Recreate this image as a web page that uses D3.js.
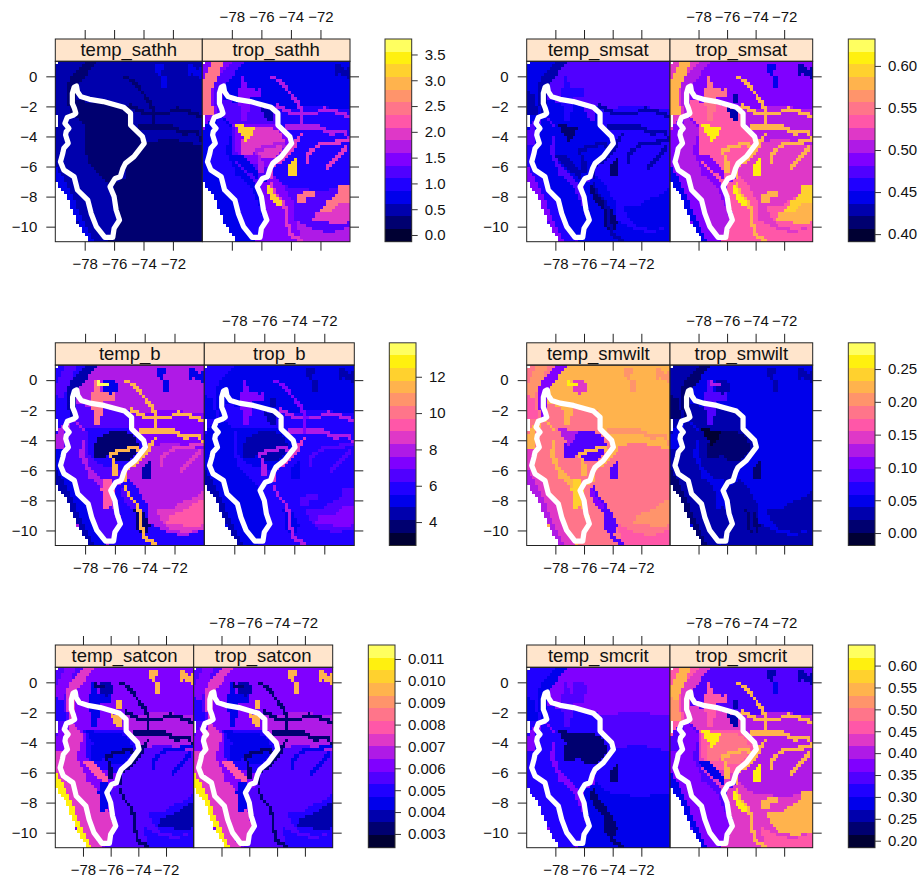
<!DOCTYPE html>
<html>
<head>
<meta charset="utf-8">
<script src="https://cdnjs.cloudflare.com/ajax/libs/d3/7.8.5/d3.min.js"></script>
<style>
body { margin: 0; background: #fff; }
text { font-family: "Liberation Sans", Arial, sans-serif; fill: #111; }
</style>
</head>
<body>
<div id="chart"></div>
<script>
var _ = null;

// 16 level palette of the colour key, dark to light
var palette = ["#000033","#000070","#0000AD","#0000EB","#2000FF","#5000FF","#8000FF","#AF1AE6",
               "#DF38C7","#FF57A8","#FF758A","#FF946B","#FFB34D","#FFD12E","#FFF00F","#FFFF60"];

var lonTicks = [-78, -76, -74, -72];
var latTicks = [0, -2, -4, -6, -8, -10];

// white basin outline, lon/lat
var basinOutline = [[-78.56,-0.64],[-78.72,-0.73],[-78.84,-1.13],[-78.84,-1.8],[-78.7,-2.13],[-78.6,-2.46],
  [-78.79,-2.59],[-79.19,-2.73],[-79.35,-3.13],[-79.07,-3.46],[-79.26,-3.68],[-79.3,-3.9],[-79.12,-4.46],
  [-79.42,-4.79],[-79.49,-5.12],[-79.65,-5.68],[-79.42,-6.23],[-78.72,-6.68],[-78.49,-7.56],[-77.79,-8.23],
  [-77.56,-9.12],[-77.21,-10],[-76.63,-10.71],[-76.09,-10.71],[-76,-10.11],[-75.63,-9.56],[-75.86,-8.89],
  [-76,-8],[-76.28,-7.34],[-75.93,-6.79],[-75.58,-6.68],[-75.4,-6.12],[-75.23,-5.79],[-74.65,-5.34],
  [-73.95,-4.46],[-74.07,-4.01],[-74.88,-3.24],[-74.88,-2.46],[-75.35,-2.06],[-76.74,-1.68],[-77.67,-1.53],
  [-78.26,-1.35],[-78.49,-1.02]];

// no data: the ocean corner and a few cells on the west edge
var oceanMask = [
  [[-80,-6.9],[-79.2,-8],[-78.5,-9.7],[-77.7,-11],[-80.1,-11.1]],
  [[-80.1,-2.6],[-79.8,-2.6],[-79.8,-3.3],[-80.1,-3.3]],
  [[-80.1,1.1],[-79.75,1.1],[-79.75,0.8],[-80.1,0.8]]
];

// landscape zones, painted in this order
var zoneShapes = [
  [[-80.1,1.1],[-69.9,1.1],[-69.9,-11.1],[-80.1,-11.1]],                                  // 0 base
  [[-75,-2.2],[-72,-2],[-70,-2.3],[-70,-4.6],[-74,-4.6],[-74.5,-3.8]],                    // 1 midEast
  [[-74,-4.4],[-72,-4.2],[-70,-4.6],[-70,-7.3],[-72,-7.6],[-75,-7.2],[-75.3,-6]],         // 2 east
  [[-75.8,-7],[-75,-7.2],[-72,-7.6],[-70,-7.3],[-70,-11],[-76.5,-11],[-75.5,-9.5],[-75.9,-8]], // 3 south
  [[-74.5,-9.6],[-73.4,-9.7],[-72.5,-10.2],[-71.2,-10.4],[-70,-9.9],[-70,-11],[-75.8,-11],[-75.4,-9.6]], // 4 sBottom
  [[-73.3,-8.6],[-72.4,-8.7],[-71.6,-8.2],[-70.8,-7.9],[-70,-7.4],[-70,-9.9],[-71.2,-10.2],[-72.3,-9.9],[-72.9,-9.4]], // 5 seBlob
  [[-72.3,-9],[-71.4,-8.7],[-70.6,-8.2],[-70,-8],[-70,-9.6],[-70.6,-9.9],[-71.5,-9.7],[-72.5,-9.5]], // 6 seCore
  [[-73.5,-7.9],[-72.9,-7.6],[-72.3,-7.5],[-72.5,-8],[-72.9,-8],[-73,-8.5],[-73.5,-8.3]], // 7 sePatchNW
  [[-72,-9],[-71.5,-8.3],[-70.9,-7.8],[-70.7,-7.3],[-70,-7.2],[-70,-8.4],[-70.8,-8.4],[-71.2,-9]], // 8 sePatchE
  [[-75.9,-7],[-75,-6.6],[-74.3,-7.5],[-73.8,-8.5],[-73.7,-9.5],[-73.3,-11],[-76.5,-11],[-75.6,-9.5],[-75.9,-8]], // 9 foothill
  [[-80,1],[-77.8,1],[-77.8,0.2],[-78.4,-0.6],[-79,-1.5],[-79,-2.6],[-79.6,-3],[-80,-3.8]], // 10 nwBand
  [[-79.3,1],[-78.5,1],[-78.9,0],[-79.3,-0.8],[-79.6,-1.3],[-80,-1.2],[-79.9,-0.3]],      // 11 nwCore
  [[-80,-1],[-79.4,-1.3],[-79.2,-2.5],[-80,-2.7]],                                        // 12 nwWest
  [[-80,-4.5],[-79.4,-4.5],[-79.6,-5.7],[-79.4,-6.3],[-78.7,-6.8],[-78.4,-7.6],[-77.7,-8.3],[-77.5,-9.2],[-77.2,-10],[-76.6,-11],[-77.7,-11],[-80,-7]], // 13 coastInner
  [[-80,-5.7],[-79.7,-6.3],[-78.9,-7.8],[-78.2,-9.5],[-77.4,-11],[-77.7,-11],[-80,-7]],   // 14 coastOuter
  [[-78.8,-2.6],[-78,-3.6],[-78.4,-5],[-77.7,-6.5],[-76.8,-7.3],[-76.1,-8.5],[-75.8,-9.6],[-76,-10.7],[-76.7,-10.7],[-77.2,-10],[-77.6,-9.1],[-77.8,-8.2],[-78.5,-7.5],[-78.7,-6.7],[-79.4,-6.2],[-79.6,-5.7],[-79.3,-4.5],[-79.3,-3.5]], // 15 basinWest
  [[-78.7,-1.6],[-75,-2.1],[-74.9,-3.2],[-74,-4],[-74,-4.5],[-75.2,-5.8],[-75.6,-6.6],[-76.2,-7.2],[-77,-6.5],[-77.8,-5.8],[-78,-4.8],[-78,-3.4],[-78.7,-2.5]], // 16 basinCenter
  [[-78,1],[-77.2,1],[-77.8,0.2],[-78.3,-0.5],[-78.6,-1.5],[-78.5,-2.5],[-79,-2.5],[-79.3,-1],[-78.9,0]], // 17 nwArc
  [[-77.6,-1.2],[-77.3,0],[-76.9,-0.7],[-75.9,-0.8],[-75.9,-1.3],[-76.7,-1.5],[-77,-3],[-77.4,-3],[-77.5,-2]], // 18 nPatch
  [[-76.8,-0.1],[-76,-0.1],[-75.7,-0.6],[-76.3,-1],[-76.9,-0.6]],                         // 19 nOval
  [[-77.2,0],[-76.4,-0.3],[-77.1,-0.4]],                                                  // 20 nYellow
  [[-77.9,-3.3],[-77,-3.2],[-75.5,-3.1],[-74.6,-3.4],[-74.2,-4],[-73.9,-4.8],[-74.4,-5.5],[-74.8,-5.8],[-75.7,-6],[-76.5,-5.8],[-77.3,-5.4],[-77.8,-5]], // 21 depHalo
  [[-77.33,-4.29],[-77.11,-3.85],[-76.56,-3.51],[-75.44,-3.4],[-74.89,-3.62],[-74.56,-4.07],[-74.33,-4.62],[-74.67,-5.06],[-75.22,-5.39],[-76.11,-5.28],[-76.33,-5.06],[-77.33,-5.17],[-77.44,-4.73]], // 22 depression
  [[-77.79,-3.25],[-76.32,-3.36],[-77.02,-4.46]],                                         // 23 tri
  [[-74.2,-5.9],[-73.7,-5.4],[-73.6,-6.5],[-74.1,-6.7]],                                  // 24 spotA
  [[-75.7,-7.2],[-75.2,-7.2],[-75,-8],[-74.4,-8.45],[-74.5,-8.8],[-75.1,-8.45],[-75.45,-7.9]], // 25 spotB
  [[-74.7,-8.7],[-74.2,-8.7],[-73.6,-9.7],[-74.1,-10.6],[-74.6,-9.8]],                    // 26 sDark
  [[-76,-2.05],[-75.3,-2.25],[-75.2,-3],[-75.8,-2.8]],                                    // 27 darkN1
  [[-75.6,-1.1],[-75.2,-1.1],[-75.1,-1.9],[-75.6,-1.9]],                                  // 28 darkN2
  [[-72.75,0],[-72.45,-0.1],[-72.4,-0.7],[-72.6,-1],[-72.8,-0.8]],                        // 29 nePatchA
  [[-73.2,0.35],[-73.1,0.85],[-72.7,0.9],[-72.65,0.5],[-72.85,0.45],[-72.9,0.05]],        // 30 nePatchB
  [[-70.9,0.8],[-70.6,0.8],[-70.4,0.4],[-70.1,0.6],[-70,0.2],[-70,-0.2],[-70.4,0],[-70.7,0.2],[-70.7,-0.2],[-70.9,0]], // 31 nePatchC
  [[-77.9,-5.3],[-77.4,-5.2],[-76.2,-6.3],[-76.2,-6.8],[-77,-6.3]],                       // 32 stripe
  [[-76.7,-6.6],[-76.2,-6.6],[-76,-7.2],[-76.3,-8.5],[-76.8,-8.5],[-76.9,-7.3]]           // 33 innerPatch
];

// rivers, one cell wide when rasterised
var riverLines = [
  [[-74.9,-2],[-74.2,-2.4],[-73.1,-2.5],[-72.4,-2.5],[-71.8,-2.2],[-70.9,-2.4],[-70,-2.7]],      // 34
  [[-74.4,-3.4],[-73.1,-3.4],[-72,-3.4],[-71.2,-3.85],[-70.4,-3.6],[-70.1,-4.2]],                // 35
  [[-75.2,-0.08],[-74.7,-0.4],[-74,-1.2],[-73.6,-1.75],[-73.2,-2.5],[-73.3,-3.4]],               // 36
  [[-76,-6.3],[-76,-5.7],[-76.3,-4.95],[-75.7,-4.73],[-74.7,-4.5],[-74.3,-4.75]],                // 37
  [[-73.33,-3.85],[-73.67,-4.5],[-74.33,-5.3],[-75.2,-5.95],[-75.3,-6.6]],                       // 38
  [[-75.33,-7.05],[-75.1,-7.7],[-74.44,-8.4],[-74.33,-9.27],[-74.1,-10.5],[-73.2,-11]],          // 39
  [[-70.2,-4.3],[-72.1,-4.6],[-72.8,-5.1],[-73,-5.8]],                                           // 40
  [[-71.6,-6.2],[-70.9,-5.35],[-70.3,-4.8]]                                                      // 41
];

// zone values per panel, one entry per shape then per river; _ = leave what is underneath
var temp_sathh = [.49,.49,.24,.24,.24,.24,.24,_,_,.24,.49,_,.49,.49,.73,.49,.24,.24,_,_,_,.24,.24,_,_,_,_,_,_,.73,.73,.73,_,_,.24,.24,.24,_,_,_,_,_];
var trop_sathh = [.73,.98,.98,1.22,1.72,1.22,1.96,2.45,2.45,1.47,1.47,2.45,2.45,.73,.73,.98,1.22,1.22,1.47,.73,_,1.47,1.96,3.2,3.2,3.2,_,.49,_,.73,.73,.49,.73,_,1.72,1.72,1.72,1.72,1.96,1.96,1.96,1.96];
var temp_smsat = [.474,.459,.459,.459,.444,.444,.444,_,_,.444,.444,_,.429,.459,.489,.444,.444,.429,.459,_,_,.444,.444,.414,.414,.414,.414,.474,_,.474,.474,.474,.429,_,.429,.429,_,.429,.429,.429,.429,.429];
var trop_smsat = [.489,.504,.519,.519,.534,.534,.579,.579,.594,.534,.519,.579,.579,.489,.444,.504,.534,.504,.549,.489,_,.534,.534,.609,.609,.609,_,.429,.429,.444,.444,.429,.489,_,.579,.579,.579,.579,.579,.579,.579,.579];
var temp_b = [7.94,7.24,7.94,7.94,5.85,8.64,9.34,_,_,5.85,5.85,6.55,5.85,5.15,4.45,6.55,6.55,4.45,10.03,5.15,13.52,5.85,3.76,_,4.45,6.55,3.76,_,_,5.15,5.15,5.15,_,9.34,11.43,11.43,11.43,11.43,11.43,11.43,8.64,8.64];
var trop_b = [5.15,5.85,5.85,5.85,5.85,6.55,7.24,6.55,6.55,5.85,5.85,5.85,5.15,5.15,4.45,5.15,5.85,5.15,7.24,5.15,_,5.15,4.45,_,5.15,5.85,5.15,4.45,4.45,4.45,4.45,4.45,_,_,7.94,7.94,7.24,7.94,8.64,7.94,6.55,6.55];
var temp_smwilt = [.222,.222,.184,.184,.164,.184,.203,_,_,.184,.184,.203,.164,.145,.126,.184,.184,.106,.222,.145,.261,_,.087,.126,.087,.106,.087,_,_,.203,.203,.203,_,.242,_,.203,_,.222,.222,.087,_,_];
var trop_smwilt = [.048,.048,.048,.048,.029,.029,.029,_,_,.029,.029,.029,.01,.029,.01,.029,.029,.01,.087,.029,.126,_,.01,-.009,.01,.029,.01,_,_,.029,.029,.029,_,.048,_,_,_,_,_,.029,_,_];
var temp_satcon = [.00614,.00672,.00556,.00556,.00498,.00498,.00382,_,_,.00556,.00556,.00614,.00498,.0073,.01078,.0073,.00614,.0073,.0044,.00382,.00324,.00498,.0044,.0044,_,_,_,.00962,.00962,.00962,.00962,.00962,.00788,.0044,.00324,.00324,.00324,.00324,.00324,.00324,.0044,.0044];
var trop_satcon = temp_satcon;
var temp_smcrit = [.372,.343,.314,.285,.285,.285,.285,_,_,.285,.314,_,.285,.314,.314,.314,.314,.285,.343,.343,_,_,.227,.227,.227,.227,.227,_,_,_,_,_,_,_,_,_,_,_,_,.227,_,_];
var trop_smcrit = [.343,.401,.401,.43,.459,.545,.545,.545,.545,.43,.459,.545,.516,.372,.285,.372,.43,.43,.459,.343,_,.459,.488,.603,.603,.603,_,.256,.256,.285,.256,.256,.285,_,.545,.545,.545,.545,.545,.545,.545,.545];

// colour key range and ticks for each parameter
var sathhRange = [-0.13, 3.80],    sathhTicks = [0, 0.5, 1, 1.5, 2, 2.5, 3, 3.5];
var smsatRange = [0.391, 0.632],   smsatTicks = [0.40, 0.45, 0.50, 0.55, 0.60];
var bRange = [2.71, 13.87],        bTicks = [4, 6, 8, 10, 12];
var smwiltRange = [-0.019, 0.29],  smwiltTicks = [0, 0.05, 0.10, 0.15, 0.20, 0.25];
var satconRange = [0.00237, 0.01164], satconTicks = [0.003, 0.004, 0.005, 0.006, 0.007, 0.008, 0.009, 0.010, 0.011];
var smcritRange = [0.184, 0.647],  smcritTicks = [0.20, 0.25, 0.30, 0.35, 0.40, 0.45, 0.50, 0.55, 0.60];

var width = 920, height = 881;
var cell = 0.2, lonMin = -80, lonMax = -70, latMin = -11, latMax = 1;

var svg = d3.select("#chart").append("svg")
    .attr("width", width)
    .attr("height", height)
    .style("display", "block");

function distToSegment(p, a, b) {
    var dx = b[0] - a[0], dy = b[1] - a[1];
    var t = ((p[0] - a[0]) * dx + (p[1] - a[1]) * dy) / (dx * dx + dy * dy);
    t = Math.max(0, Math.min(1, t));
    return Math.hypot(p[0] - a[0] - t * dx, p[1] - a[1] - t * dy);
}

function nearRiver(p, line) {
    for (var i = 1; i < line.length; i++) {
        if (distToSegment(p, line[i - 1], line[i]) < 0.12) return true;
    }
    return false;
}

// which zone covers which cell, shared by every panel
var cols = Math.round((lonMax - lonMin) / cell), rows = Math.round((latMax - latMin) / cell);
var cellCenters = [];
for (var r = 0; r < rows; r++) {
    for (var c = 0; c < cols; c++) {
        var p = [lonMin + (c + 0.5) * cell, latMax - (r + 0.5) * cell];
        var zones = [];
        zoneShapes.forEach(function(s, i) { if (d3.polygonContains(s, p)) zones.push(i); });
        riverLines.forEach(function(l, i) { if (nearRiver(p, l)) zones.push(zoneShapes.length + i); });
        var masked = oceanMask.some(function(s) { return d3.polygonContains(s, p); });
        cellCenters.push({r: r, c: c, lon: p[0], lat: p[1], zones: zones, masked: masked});
    }
}

// merge runs of one value along a row so there are fewer rects
function rasterRuns(values) {
    var runs = [], cur = null;
    cellCenters.forEach(function(d) {
        var v = null;
        if (!d.masked) {
            d.zones.forEach(function(z) { if (values[z] !== null) v = values[z]; });
        }
        if (cur && cur.r === d.r && cur.v === v) {
            cur.lon1 = d.lon + cell / 2;
        } else {
            cur = {r: d.r, v: v, lon0: d.lon - cell / 2, lon1: d.lon + cell / 2, lat: d.lat};
            if (v !== null) runs.push(cur);
        }
    });
    return runs;
}

function lonFormat(d) { return "\u2212" + Math.abs(d); }
function latFormat(d) { return d < 0 ? "\u2212" + Math.abs(d) : "" + d; }

function drawPair(opt) {
    var top = opt.top, stripH = 22.3, panelTop = top + stripH, panelBottom = top + 202.7;
    var color = d3.scaleQuantize().domain(opt.range).range(palette);

    var panels = [
        {name: opt.names[0], values: opt.values[0], x0: opt.left, x1: opt.mid},
        {name: opt.names[1], values: opt.values[1], x0: opt.mid, x1: opt.right}
    ];
    var y = d3.scaleLinear().domain([latMin, latMax]).range([panelBottom, panelTop]);

    panels.forEach(function(pn, i) {
        var x = d3.scaleLinear().domain([lonMin, lonMax]).range([pn.x0, pn.x1]);
        var g = svg.append("g");

        g.append("g").selectAll("rect")
            .data(rasterRuns(pn.values))
            .join("rect")
            .attr("x", function(d) { return x(d.lon0); })
            .attr("y", function(d) { return y(d.lat + cell / 2); })
            .attr("width", function(d) { return x(d.lon1) - x(d.lon0); })
            .attr("height", function(d) { return y(d.lat - cell / 2) - y(d.lat + cell / 2); })
            .attr("fill", function(d) { return color(d.v); })
            .attr("shape-rendering", "crispEdges");

        var line = d3.line().x(function(d) { return x(d[0]); }).y(function(d) { return y(d[1]); });
        g.append("path")
            .attr("d", line(basinOutline) + "Z")
            .attr("fill", "none")
            .attr("stroke", "#fff")
            .attr("stroke-width", 5.2)
            .attr("stroke-linejoin", "round");

        // strip and frame
        g.append("rect")
            .attr("x", pn.x0).attr("y", top)
            .attr("width", pn.x1 - pn.x0).attr("height", stripH)
            .attr("fill", "#FFE5CC").attr("stroke", "#222");
        g.append("text")
            .attr("x", (pn.x0 + pn.x1) / 2).attr("y", top + 17)
            .attr("text-anchor", "middle")
            .attr("font-size", 18.5)
            .text(pn.name);
        g.append("rect")
            .attr("x", pn.x0).attr("y", panelTop)
            .attr("width", pn.x1 - pn.x0).attr("height", panelBottom - panelTop)
            .attr("fill", "none").attr("stroke", "#222");

        // lattice style alternating axes: left panel labels below, right panel labels on top
        var bottomAxis = d3.axisBottom(x).tickValues(lonTicks).tickSize(9).tickPadding(8)
            .tickFormat(i === 0 ? lonFormat : "");
        var topAxis = d3.axisTop(x).tickValues(lonTicks).tickSize(9).tickPadding(8)
            .tickFormat(i === 1 ? lonFormat : "");
        var ga = g.append("g").attr("transform", "translate(0," + panelBottom + ")").call(bottomAxis);
        var gb = g.append("g").attr("transform", "translate(0," + top + ")").call(topAxis);
        var gc;
        if (i === 0) {
            gc = g.append("g").attr("transform", "translate(" + pn.x0 + ",0)")
                .call(d3.axisLeft(y).tickValues(latTicks).tickSize(9).tickPadding(9).tickFormat(latFormat));
        } else {
            gc = g.append("g").attr("transform", "translate(" + pn.x1 + ",0)")
                .call(d3.axisRight(y).tickValues(latTicks).tickSize(9).tickFormat(""));
        }
        [ga, gb, gc].forEach(function(a) {
            a.select(".domain").remove();
            a.selectAll("line").attr("stroke", "#222");
            a.selectAll("text").attr("font-size", 15).attr("font-family", null);
        });
    });

    // colour key
    var keyY = d3.scaleLinear().domain(opt.range).range([panelBottom, top]);
    var step = (opt.range[1] - opt.range[0]) / palette.length;
    var key = svg.append("g");
    key.selectAll("rect")
        .data(palette)
        .join("rect")
        .attr("x", opt.keyX)
        .attr("y", function(d, i) { return keyY(opt.range[0] + (i + 1) * step); })
        .attr("width", 26.7)
        .attr("height", function(d, i) { return keyY(opt.range[0] + i * step) - keyY(opt.range[0] + (i + 1) * step); })
        .attr("fill", function(d) { return d; })
        .attr("shape-rendering", "crispEdges");
    key.append("rect")
        .attr("x", opt.keyX).attr("y", top)
        .attr("width", 26.7).attr("height", panelBottom - top)
        .attr("fill", "none").attr("stroke", "#333");
    var gk = key.append("g").attr("transform", "translate(" + (opt.keyX + 26.7) + ",0)")
        .call(d3.axisRight(keyY).tickValues(opt.ticks).tickSize(6).tickPadding(7).tickFormat(d3.format(opt.fmt)));
    gk.select(".domain").remove();
    gk.selectAll("line").attr("stroke", "#333");
    gk.selectAll("text").attr("font-size", 15).attr("font-family", null);
}

drawPair({top: 39, left: 55.3, mid: 202.3, right: 350, keyX: 385,
    names: ["temp_sathh", "trop_sathh"], values: [temp_sathh, trop_sathh], range: sathhRange, ticks: sathhTicks, fmt: ".1f"});
drawPair({top: 39, left: 526.7, mid: 670, right: 812.7, keyX: 848.3,
    names: ["temp_smsat", "trop_smsat"], values: [temp_smsat, trop_smsat], range: smsatRange, ticks: smsatTicks, fmt: ".2f"});
drawPair({top: 342.8, left: 55.3, mid: 204.3, right: 354.3, keyX: 389.3,
    names: ["temp_b", "trop_b"], values: [temp_b, trop_b], range: bRange, ticks: bTicks, fmt: "d"});
drawPair({top: 342.8, left: 526.7, mid: 670, right: 812.7, keyX: 848.3,
    names: ["temp_smwilt", "trop_smwilt"], values: [temp_smwilt, trop_smwilt], range: smwiltRange, ticks: smwiltTicks, fmt: ".2f"});
drawPair({top: 645, left: 55.3, mid: 193.7, right: 332.7, keyX: 368.3,
    names: ["temp_satcon", "trop_satcon"], values: [temp_satcon, trop_satcon], range: satconRange, ticks: satconTicks, fmt: ".3f"});
drawPair({top: 645, left: 526.7, mid: 670, right: 812.7, keyX: 848.3,
    names: ["temp_smcrit", "trop_smcrit"], values: [temp_smcrit, trop_smcrit], range: smcritRange, ticks: smcritTicks, fmt: ".2f"});
</script>
</body>
</html>
